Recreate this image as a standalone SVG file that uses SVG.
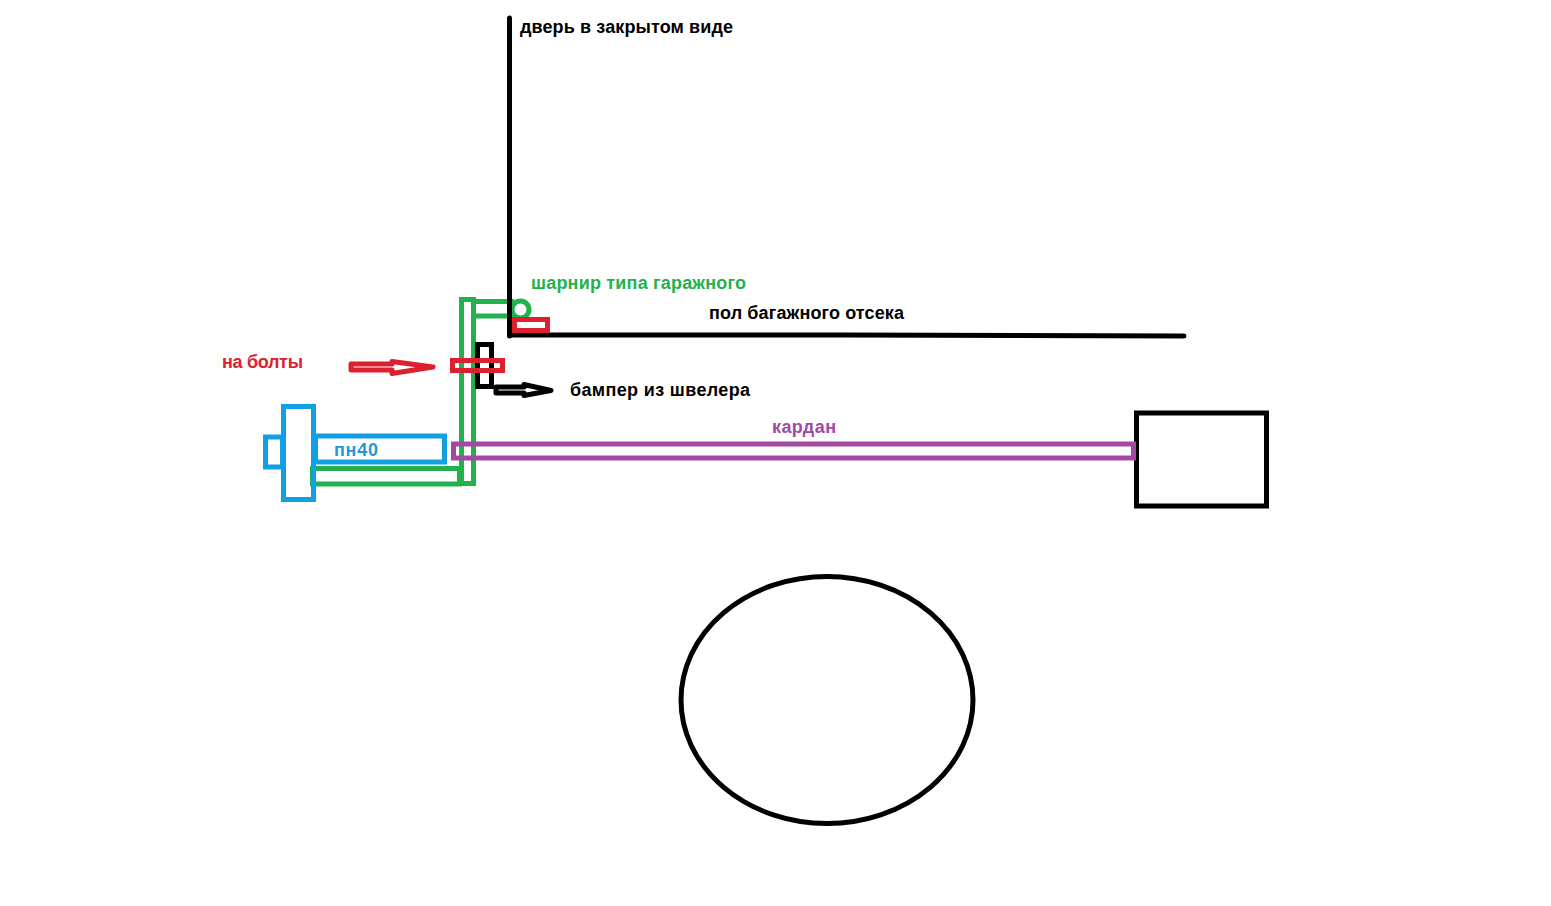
<svg xmlns="http://www.w3.org/2000/svg" width="1551" height="906" viewBox="0 0 1551 906">
<style>
.s{fill:none;stroke-width:5;stroke-linejoin:miter}
.k{stroke:#000}.g{stroke:#22b14c}.r{stroke:#dd2030}.b{stroke:#12a0e4}.p{stroke:#a349a4}
.a{fill:none;stroke-width:5;stroke-linejoin:round}
text{font-family:"Liberation Sans",Arial,sans-serif;font-size:18px;font-weight:bold}
</style>
<rect width="1551" height="906" fill="#fff"/>
<g id="bracket">
<path class="s g" d="M461.500 483V299.500H473.500V483.500H459.500"/>
<path class="s g" d="M473 301.500H514M473 316H514"/>
<circle class="s g" cx="520.500" cy="309.500" r="8.500"/>
<rect class="s g" x="312.500" y="468.500" width="147" height="15.500"/>
</g>
<g id="door"><path class="s k" d="M509.500 18V336" stroke-linecap="round"/></g>
<g id="floor"><path class="s k" d="M510 335H845L1184 336" stroke-linecap="round"/></g>
<g id="box"><rect class="s k" x="1136.500" y="413" width="130" height="93"/></g>
<g id="wheel"><ellipse class="s k" cx="827" cy="700" rx="146" ry="123.500"/></g>
<g id="hinge-plate"><rect class="s r" x="514.500" y="319.500" width="33" height="11"/></g>
<g id="bumper"><rect class="s k" x="477.500" y="344.500" width="14" height="42"/></g>
<g id="bolt"><rect class="s r" x="452.500" y="360.500" width="50" height="10"/></g>
<g id="bolt-arrow"><path class="a r" d="M351 364H392V361.500L433 367L392 373.500V370H351Z"/></g>
<g id="bumper-arrow"><path class="a k" d="M496 387H524V384.500L551 390.500L524 395.500V393H496Z"/></g>
<g id="pn40">
<rect class="s b" x="265.500" y="437" width="17" height="30"/>
<rect class="s b" x="283.500" y="406.500" width="30" height="93"/>
<rect class="s b" x="315.500" y="436" width="129" height="26"/>
</g>
<g id="shaft"><rect class="s p" x="453.500" y="444" width="680" height="14"/></g>
<g id="labels">
<text x="520" y="33" textLength="213">дверь в закрытом виде</text>
<text x="531" y="289" fill="#22b14c" textLength="215">шарнир типа гаражного</text>
<text x="709" y="318.500" textLength="195">пол багажного отсека</text>
<text x="222" y="368" fill="#dd2030" textLength="81">на болты</text>
<text x="570" y="396" textLength="180">бампер из швелера</text>
<text x="772" y="433" fill="#a349a4" textLength="64">кардан</text>
<text x="334" y="456" fill="#1e9ad6" textLength="44">пн40</text>
</g>
</svg>
